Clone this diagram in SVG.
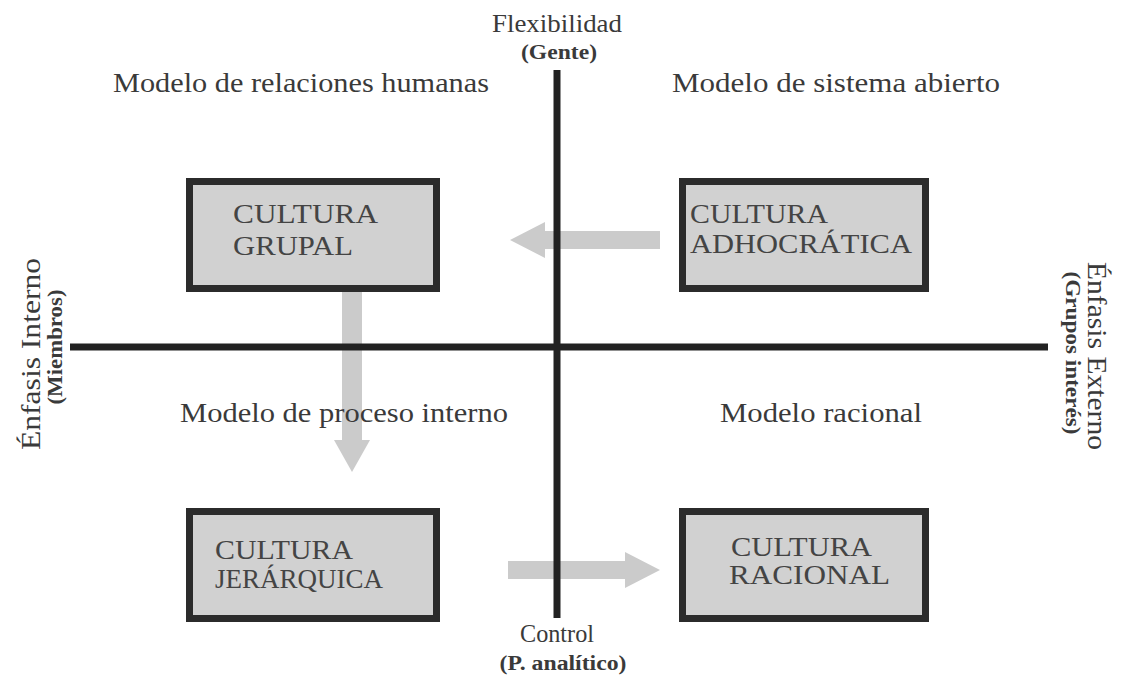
<svg xmlns="http://www.w3.org/2000/svg" width="1125" height="677" viewBox="0 0 1125 677">
<style>
text{font-family:"Liberation Serif","Times New Roman",serif;fill:#3a3a3a}
.t{font-size:28px}
.s{font-size:20px;font-weight:bold}
.bx{fill:#d1d1d1;stroke:#2b2b2b;stroke-width:7}
.bt{font-size:28px;fill:#444}
.ar{fill:#cbcbcb}
.ax{stroke:#222;stroke-width:7}
</style>
<rect width="1125" height="677" fill="#fff"/>
<g id="connectors">
<polygon class="ar" points="660,231 545,231 545,222 510,240 545,258 545,249 660,249"/>
<polygon class="ar" points="342,292 362,292 362,440 370,440 352,472 334,440 342,440"/>
<polygon class="ar" points="508,561 625,561 625,552 660,570 625,588 625,579 508,579"/>
</g>
<g id="axes">
<line class="ax" x1="557" y1="70" x2="557" y2="618"/>
<line class="ax" x1="70" y1="347" x2="1048" y2="347"/>
</g>
<g id="labels">
<text x="557" y="32" text-anchor="middle" font-size="26" textLength="130" lengthAdjust="spacingAndGlyphs">Flexibilidad</text>
<text class="s" x="559" y="59" text-anchor="middle" textLength="76" lengthAdjust="spacingAndGlyphs">(Gente)</text>
<text x="557" y="642" text-anchor="middle" font-size="25" textLength="74" lengthAdjust="spacingAndGlyphs">Control</text>
<text class="s" x="563" y="670" text-anchor="middle" textLength="127" lengthAdjust="spacingAndGlyphs">(P. analítico)</text>
<text class="t" x="113" y="92" textLength="376" lengthAdjust="spacingAndGlyphs">Modelo de relaciones humanas</text>
<text class="t" x="672" y="92" textLength="328" lengthAdjust="spacingAndGlyphs">Modelo de sistema abierto</text>
<text class="t" x="180" y="422" textLength="328" lengthAdjust="spacingAndGlyphs">Modelo de proceso interno</text>
<text class="t" x="720" y="422" textLength="202" lengthAdjust="spacingAndGlyphs">Modelo racional</text>
<text class="t" transform="translate(40,354) rotate(-90)" text-anchor="middle" textLength="192" lengthAdjust="spacingAndGlyphs">Énfasis Interno</text>
<text class="s" transform="translate(62,347) rotate(-90)" text-anchor="middle" textLength="115" lengthAdjust="spacingAndGlyphs">(Miembros)</text>
<text class="t" transform="translate(1088,356) rotate(90)" text-anchor="middle" textLength="188" lengthAdjust="spacingAndGlyphs">Énfasis Externo</text>
<text class="s" transform="translate(1066,353) rotate(90)" text-anchor="middle" textLength="163" lengthAdjust="spacingAndGlyphs">(Grupos interés)</text>
</g>
<g id="grupal">
<rect class="bx" x="189.5" y="181.5" width="247" height="107"/>
<text class="bt" x="233" y="223" textLength="145" lengthAdjust="spacingAndGlyphs">CULTURA</text>
<text class="bt" x="233" y="255" textLength="120" lengthAdjust="spacingAndGlyphs">GRUPAL</text>
</g>
<g id="adhocratica">
<rect class="bx" x="682.5" y="181.5" width="243" height="107"/>
<text class="bt" x="690" y="223" textLength="138" lengthAdjust="spacingAndGlyphs">CULTURA</text>
<text class="bt" x="690" y="253" textLength="222" lengthAdjust="spacingAndGlyphs">ADHOCRÁTICA</text>
</g>
<g id="jerarquica">
<rect class="bx" x="189.5" y="511.5" width="247" height="107"/>
<text class="bt" x="215" y="559" textLength="138" lengthAdjust="spacingAndGlyphs">CULTURA</text>
<text class="bt" x="215" y="588" textLength="168" lengthAdjust="spacingAndGlyphs">JERÁRQUICA</text>
</g>
<g id="racional">
<rect class="bx" x="682.5" y="511.5" width="243" height="107"/>
<text class="bt" x="731" y="556" textLength="141" lengthAdjust="spacingAndGlyphs">CULTURA</text>
<text class="bt" x="729" y="584" textLength="161" lengthAdjust="spacingAndGlyphs">RACIONAL</text>
</g>
</svg>
